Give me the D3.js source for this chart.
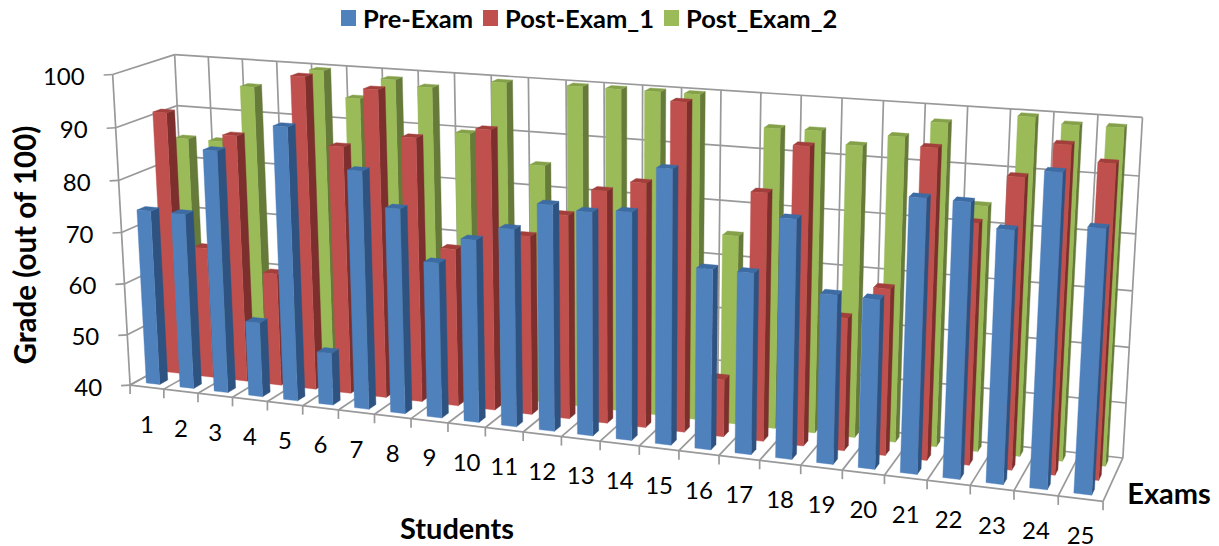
<!DOCTYPE html>
<html><head><meta charset="utf-8"><script src="https://cdn.jsdelivr.net/npm/d3@7"></script>
<style>body{margin:0;background:#fff}svg{display:block}text{font-family:Lato,sans-serif;fill:#000}</style></head>
<body><svg id="chart" width="1219" height="546"></svg>
<script>
var students = d3.range(1, 26).map(String);
var seriesNames = ["Pre-Exam", "Post-Exam_1", "Post_Exam_2"];
var gradeTicks = [40, 50, 60, 70, 80, 90, 100];

var preExam = [74, 74, 86.6, 54.4, 92.1, 50, 85, 78.6, 69.2, 74.1, 76.7, 81.7, 81, 81.6, 89.8, 72.7, 72.7, 82.8, 70.2, 70.1, 88.2, 88.1, 84, 94.2, 85.5];
var postExam1 = [91.3, 65.6, 87.9, 61.9, 100, 87.4, 98.5, 90.1, 69.9, 92.6, 73.6, 78.1, 83.1, 85.1, 100, 50.6, 85.1, 93.8, 64.1, 70, 95.1, 82.8, 91.2, 97.2, 94.6];
// student 4 is hidden behind the bars in front of it, so that one is a guess
var postExam2 = [84.8, 84.8, 95.8, 54.6, 99.8, 95, 99, 98, 89.9, 99.8, 85, 100, 100, 100, 100, 75, 94.9, 95, 92.9, 95, 97.9, 84, 99.9, 99, 99.1];
var seriesValues = [preExam, postExam1, postExam2];

var faces = [
  {front: "#4f81bd", side: "#2f5380", top: "#3d6ba3"},
  {front: "#c0504d", side: "#7c2f2d", top: "#a23e3b"},
  {front: "#9bbb59", side: "#667a39", top: "#84a048"}
];
var gridColor = "#999";

// wall corners: student, depth, grade, pixel x, pixel y
var anchors = [
 [0,0,40,130,385.7],[0,0,100,112.3,73.3],[0,1,100,174.3,55],[25,1,100,1142.7,117.7],[25,1,40,1123.3,458.3],
 [25,0,40,1103.3,500.7],[0,1,40,189,351],[1,0,40,164.3,390.7],[24,0,40,1058.3,495.7],[6,1,100,382.7,68.5],
 [18,1,100,841.7,98.2],[25,1,70,1132.3,291],[0,0,70,122.3,232.3],[8,0,40,411,419],[13,0,40,600,441.2],[17,0,40,759.3,460],[15,0,40,678.3,450.4]
];
var xScale = d3.scaleLinear().domain([0, 25]).range([0, 1]);
var zScale = d3.scaleLinear().domain([40, 100]).range([0, 1]);
var xBand = d3.scaleBand().domain(students).range([0, 25]).paddingInner(0.6).paddingOuter(0.3);
var dBand = d3.scaleBand().domain(seriesNames).range([0, 1]).paddingInner(0.6).paddingOuter(0.3);

// least squares perspective matrix from the anchors
function fit(pts) {
  var A = [], b = [];
  pts.forEach(function(p) {
    var X = xScale(p[0]), Y = p[1], Z = zScale(p[2]), u = p[3] / 1000, v = p[4] / 1000;
    A.push([X,Y,Z,1,0,0,0,0,-u*X,-u*Y,-u*Z]); b.push(u);
    A.push([0,0,0,0,X,Y,Z,1,-v*X,-v*Y,-v*Z]); b.push(v);
  });
  var n = 11, M = [];
  for (var i = 0; i < n; i++) {
    M[i] = [];
    for (var j = 0; j < n; j++) M[i][j] = d3.sum(A, function(r) { return r[i] * r[j]; });
    M[i][n] = d3.sum(A, function(r, k) { return r[i] * b[k]; });
  }
  for (var c = 0; c < n; c++) {
    var pv = c;
    for (var r = c + 1; r < n; r++) if (Math.abs(M[r][c]) > Math.abs(M[pv][c])) pv = r;
    var tmp = M[c]; M[c] = M[pv]; M[pv] = tmp;
    for (var r2 = 0; r2 < n; r2++) {
      if (r2 == c) continue;
      var f = M[r2][c] / M[c][c];
      for (var j2 = c; j2 <= n; j2++) M[r2][j2] -= f * M[c][j2];
    }
  }
  return M.map(function(r, i) { return r[n] / r[i]; });
}
var h = fit(anchors);
function proj(x, d, z) {
  var X = xScale(x), Y = d, Z = zScale(z), w = h[8]*X + h[9]*Y + h[10]*Z + 1;
  return [1000*(h[0]*X + h[1]*Y + h[2]*Z + h[3]) / w, 1000*(h[4]*X + h[5]*Y + h[6]*Z + h[7]) / w];
}

var svg = d3.select("#chart");
var line = d3.line();
function seg(g, a, b) { g.append("path").attr("d", line([a, b])).attr("stroke", gridColor).attr("stroke-width", 1.7).attr("fill", "none"); }

var grid = svg.append("g");
gradeTicks.forEach(function(t) {
  seg(grid, proj(0,0,t), proj(0,1,t));
  seg(grid, proj(0,1,t), proj(25,1,t));
  var p = proj(0,0,t);
  seg(grid, [p[0]-9, p[1]+0.5], p);
});
d3.range(0, 26).forEach(function(i) {
  seg(grid, proj(i,1,40), proj(i,1,100));
  seg(grid, proj(i,0,40), proj(i,1,40));
  var p = proj(i,0,40);
  seg(grid, p, [p[0], p[1]+9]);
});
seg(grid, proj(0,0,40), proj(0,0,100));
seg(grid, proj(0,0,40), proj(25,0,40));

function poly(g, pts, color) {
  g.append("path").attr("d", line(pts) + "Z").attr("fill", color).attr("stroke", color).attr("stroke-width", 0.4);
}
// back row first, left to right, so the nearer bars paint over the others
var bars = svg.append("g");
d3.range(2, -1, -1).forEach(function(k) {
  var d0 = dBand(seriesNames[k]), d1 = d0 + dBand.bandwidth(), c = faces[k];
  students.forEach(function(s, i) {
    var x0 = xBand(s), x1 = x0 + xBand.bandwidth(), v = seriesValues[k][i];
    poly(bars, [proj(x1,d0,40), proj(x1,d1,40), proj(x1,d1,v), proj(x1,d0,v)], c.side);
    poly(bars, [proj(x0,d0,v), proj(x1,d0,v), proj(x1,d1,v), proj(x0,d1,v)], c.top);
    poly(bars, [proj(x0,d0,40), proj(x1,d0,40), proj(x1,d0,v), proj(x0,d0,v)], c.front);
  });
});

gradeTicks.forEach(function(t) {
  var p = proj(0,0,t);
  svg.append("text").attr("x", p[0]-28).attr("y", p[1]+1).attr("text-anchor","end").attr("dominant-baseline","central").attr("font-size",24).text(t);
});
students.forEach(function(s, i) {
  var p = proj(i+0.5,0,40);
  svg.append("text").attr("x", p[0]).attr("y", p[1]+36).attr("text-anchor","middle").attr("dominant-baseline","central").attr("font-size",24).text(s);
});
svg.append("text").attr("transform","translate(24,245) rotate(-90)").attr("text-anchor","middle").attr("dominant-baseline","central").attr("font-size",29.5).attr("font-weight",700).text("Grade (out of 100)");
svg.append("text").attr("x",457).attr("y",527).attr("text-anchor","middle").attr("dominant-baseline","central").attr("font-size",29).attr("font-weight",700).text("Students");
svg.append("text").attr("x",1169).attr("y",492).attr("text-anchor","middle").attr("dominant-baseline","central").attr("font-size",29).attr("font-weight",700).text("Exams");

var legendX = d3.scaleOrdinal().domain(seriesNames).range([341, 483, 664]);
seriesNames.forEach(function(name, k) {
  svg.append("rect").attr("x", legendX(name)).attr("y", 10).attr("width", 15).attr("height", 16).attr("fill", faces[k].front);
  svg.append("text").attr("x", legendX(name)+22).attr("y", 18).attr("dominant-baseline","central").attr("font-size",25.5).attr("font-weight",700).text(name);
});
</script></body></html>
